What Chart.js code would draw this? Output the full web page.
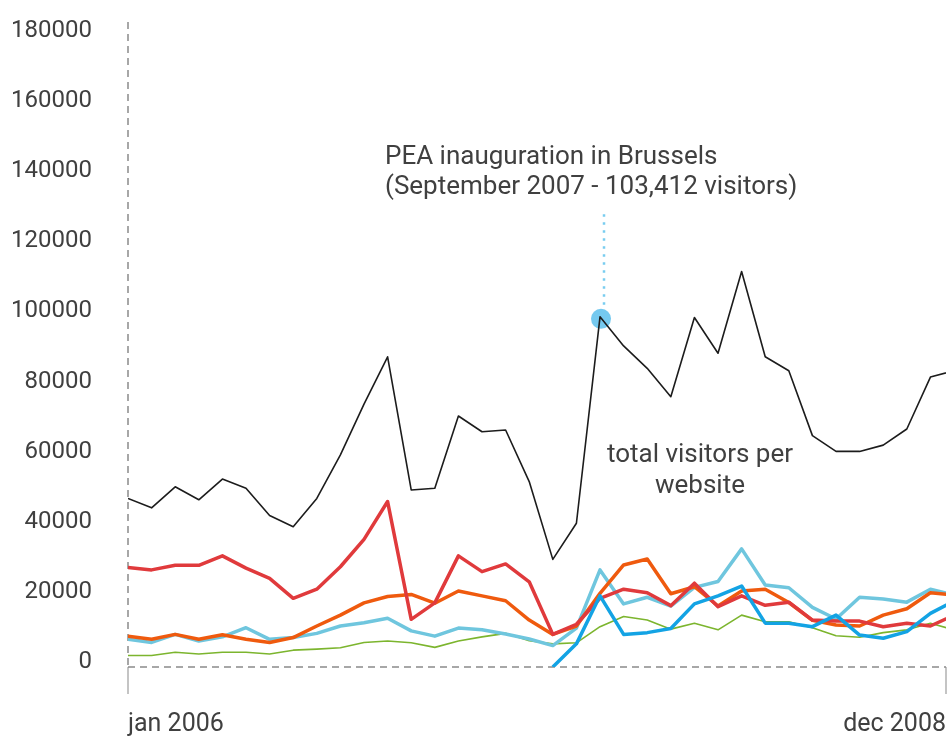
<!DOCTYPE html>
<html>
<head>
<meta charset="utf-8">
<script src="https://cdn.jsdelivr.net/npm/chart.js@4.4.1/dist/chart.umd.min.js"></script>
<style>
  html, body { margin: 0; padding: 0; background: #fff; }
  #wrap { width: 949px; height: 738px; }
</style>
</head>
<body>
<div id="wrap"><canvas id="visitors" width="949" height="738"></canvas></div>
<script>
const months = [
  "jan 2006", "feb 2006", "mar 2006", "apr 2006", "may 2006", "jun 2006",
  "jul 2006", "aug 2006", "sep 2006", "oct 2006", "nov 2006", "dec 2006",
  "jan 2007", "feb 2007", "mar 2007", "apr 2007", "may 2007", "jun 2007",
  "jul 2007", "aug 2007", "sep 2007", "oct 2007", "nov 2007", "dec 2007",
  "jan 2008", "feb 2008", "mar 2008", "apr 2008", "may 2008", "jun 2008",
  "jul 2008", "aug 2008", "sep 2008", "oct 2008", "nov 2008", "dec 2008"
];

const totalVisitors = [48100, 45400, 51400, 47700, 53600, 51000, 43200, 40000, 48100, 60500, 75000, 88500,
  50500, 51000, 71600, 67100, 67600, 52900, 30700, 41000, 99900, 91600, 85200, 77100,
  99700, 89500, 112800, 88500, 84500, 66000, 61500, 61500, 63300, 67900, 82700, 84500];
const redSite = [28400, 27700, 29000, 29000, 31700, 28200, 25300, 19600, 22200, 28600, 36400, 47200,
  13600, 18300, 31700, 27200, 29400, 24300, 9300, 12200, 19600, 22200, 21200, 17500,
  23900, 17200, 20300, 17600, 18500, 13400, 13100, 13100, 11500, 12500, 11700, 14800];
const orangeSite = [8800, 7900, 9300, 7900, 9200, 7900, 7000, 8400, 11700, 14800, 18300, 20100,
  20700, 18200, 21700, 20300, 18900, 13400, 9300, 11700, 21000, 29100, 30800, 20900,
  22900, 17400, 21700, 22200, 18400, 13300, 12000, 11700, 14800, 16600, 21200, 20500];
const lightBlueSite = [7900, 7000, 9300, 7400, 8600, 11200, 7900, 8400, 9600, 11700, 12600, 13900,
  10300, 8800, 11100, 10600, 9400, 8000, 6100, 11100, 27700, 18000, 19900, 17400,
  22700, 24400, 33700, 23400, 22600, 17000, 13700, 19900, 19400, 18500, 22200, 20500];
const greenSite = [3300, 3300, 4200, 3700, 4200, 4200, 3700, 4800, 5100, 5500, 7000, 7400,
  6900, 5600, 7400, 8600, 9600, 7500, 6600, 6900, 11500, 14400, 13400, 10800,
  12500, 10600, 14800, 12900, 12900, 11200, 8900, 8500, 9800, 10600, 12500, 10600];
const blueSite = [null, null, null, null, null, null, null, null, null, null, null, null,
  null, null, null, null, null, null, 0, 6600, 20300, 9300, 9800, 11000,
  18000, 20300, 23100, 12500, 12500, 11500, 14800, 9100, 8200, 10100, 15300, 18800];

const yTicks = [0, 20000, 40000, 60000, 80000, 100000, 120000, 140000, 160000, 180000];
const xTickLabels = ["jan 2006", "dec 2008"];

const peakIndex = 20; // september 2007
const peakNote = ["PEA inauguration in Brussels", "(September 2007 - 103,412 visitors)"];
const totalNote = ["total visitors per", "website"];

const FONT = "Roboto, 'DejaVu Sans', sans-serif";
const TEXT = "#404040";

function pts(arr) {
  return arr.map((v, i) => ({ x: i, y: v }));
}

// ---------- AXES + ANNOTATIONS ----------
const notes = {
  id: "notes",
  beforeDatasetsDraw(chart) {
    const { ctx, scales, chartArea } = chart;
    const y0 = scales.y.getPixelForValue(0);
    ctx.save();
    // dashed axis lines
    ctx.strokeStyle = "#8a8a8a";
    ctx.lineWidth = 1.5;
    ctx.setLineDash([7, 5]);
    ctx.beginPath();
    ctx.moveTo(chartArea.left, chartArea.top);
    ctx.lineTo(chartArea.left, y0);
    ctx.moveTo(chartArea.left, y0);
    ctx.lineTo(chartArea.right, y0);
    ctx.stroke();

    const px = scales.x.getPixelForValue(peakIndex);
    const py = scales.y.getPixelForValue(totalVisitors[peakIndex]);
    ctx.setLineDash([]);
    ctx.fillStyle = "rgba(110,198,238,0.95)";
    ctx.beginPath();
    ctx.arc(px + 1, py + 2, 10, 0, Math.PI * 2);
    ctx.fill();

    // dotted leader up to the note
    ctx.strokeStyle = "#79cdf0";
    ctx.lineWidth = 2.5;
    ctx.setLineDash([2.5, 5.5]);
    ctx.beginPath();
    ctx.moveTo(px + 4, py - 12);
    ctx.lineTo(px + 4, scales.y.getPixelForValue(129500));
    ctx.stroke();
    ctx.restore();
  },
  afterDraw(chart) {
    const { ctx } = chart;
    ctx.save();
    ctx.font = "26px " + FONT;
    ctx.fillStyle = TEXT;
    ctx.textBaseline = "middle";
    ctx.textAlign = "left";
    ctx.fillText(peakNote[0], 385, 157);
    ctx.fillText(peakNote[1], 385, 187);
    ctx.textAlign = "center";
    ctx.fillText(totalNote[0], 700, 455);
    ctx.fillText(totalNote[1], 700, 486);
    ctx.restore();
  }
};

const ctx = document.getElementById("visitors").getContext("2d");

new Chart(ctx, {
  type: "line",
  data: {
    datasets: [
      { label: "total", data: pts(totalVisitors), borderColor: "#1c1c1c", borderWidth: 1.6 },
      { label: "blue", data: pts(blueSite), borderColor: "#13a3e4", borderWidth: 3.5 },
      { label: "red", data: pts(redSite), borderColor: "#e03a3c", borderWidth: 3.5 },
      { label: "orange", data: pts(orangeSite), borderColor: "#ef5a0e", borderWidth: 3.5 },
      { label: "light blue", data: pts(lightBlueSite), borderColor: "#6fc6de", borderWidth: 3.5 },
      { label: "green", data: pts(greenSite), borderColor: "#7cb52e", borderWidth: 1.6 }
    ]
  },
  options: {
    responsive: false,
    devicePixelRatio: 1,
    animation: false,
    layout: { padding: { top: 22, right: 3, left: 0, bottom: 0 } },
    elements: {
      point: { radius: 0 },
      line: { tension: 0, fill: false, borderJoinStyle: "round" }
    },
    plugins: {
      legend: { display: false },
      tooltip: { enabled: false }
    },
    scales: {
      x: {
        type: "linear",
        min: 0,
        max: 34.66,
        afterBuildTicks: (scale) => {
          scale.ticks = [{ value: 0 }, { value: 34.66 }];
        },
        afterFit: (scale) => {
          scale.height = 71;
          scale.paddingLeft = 0;
          scale.paddingRight = 0;
        },
        ticks: {
          align: "inner",
          maxRotation: 0,
          padding: 16,
          color: TEXT,
          font: { family: FONT, size: 25 },
          callback: (v, i) => xTickLabels[i]
        },
        grid: {
          drawOnChartArea: false,
          drawTicks: true,
          tickLength: 27,
          color: "#c4c4c4",
          lineWidth: 2
        },
        border: { display: false }
      },
      y: {
        min: 0,
        max: 184000,
        afterBuildTicks: (scale) => {
          scale.ticks = yTicks.map((v) => ({ value: v }));
        },
        afterFit: (scale) => {
          scale.width = 128;
          scale.paddingTop = 0;
          scale.paddingBottom = 0;
        },
        ticks: {
          padding: 36,
          labelOffset: -5,
          color: TEXT,
          font: { family: FONT, size: 24 },
          callback: (v) => String(v)
        },
        grid: { display: false, drawTicks: false },
        border: { display: false }
      }
    }
  },
  plugins: [notes]
});
</script>
</body>
</html>
